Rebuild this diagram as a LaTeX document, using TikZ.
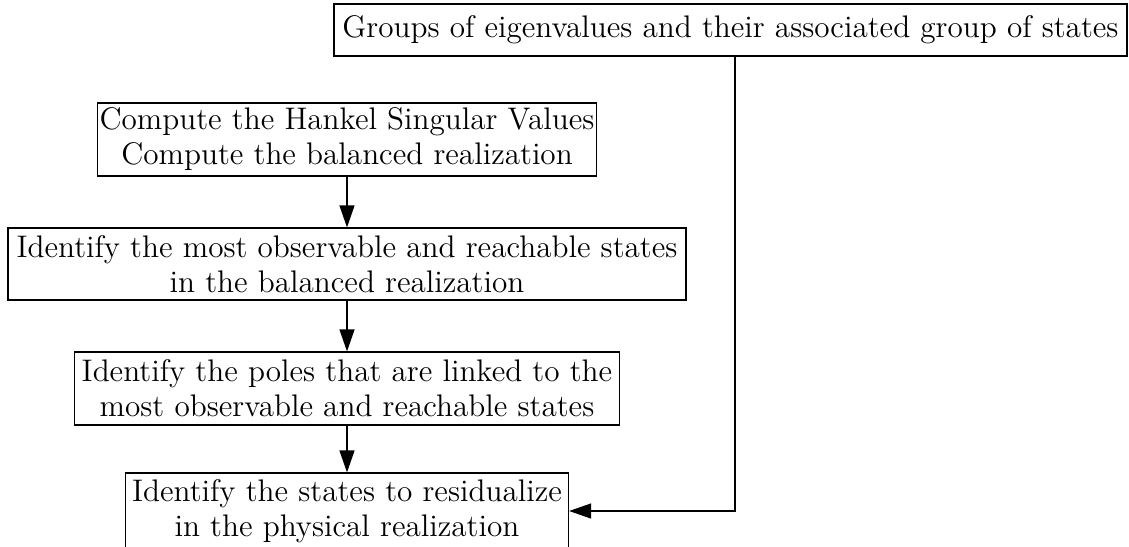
\documentclass[tikz,border=0pt]{standalone}
\usepackage{fontspec}
\setmainfont{lmroman12-regular.otf}
\usetikzlibrary{arrows.meta}
\begin{document}
\begin{tikzpicture}[x=0.5pt,y=-0.5pt,
  stepbox/.style={draw,line width=0.6pt,align=center,inner xsep=1pt,inner ysep=1pt,
    font=\fontsize{15.6}{17.5}\selectfont},
  arr/.style={line width=0.6pt,-{Triangle[length=11pt,width=7.5pt]}}]
\useasboundingbox (0,0) rectangle (1129,546);
\node[stepbox,minimum width=396.5pt,minimum height=26pt] (top) at (730.5,30)
  {Groups of eigenvalues and their associated group of states};
\node[stepbox,minimum width=249pt,minimum height=36.5pt] (b1) at (347,139.5)
  {Compute the Hankel Singular Values\\Compute the balanced realization};
\node[stepbox,minimum width=339pt,minimum height=36pt] (b2) at (347,264)
  {Identify the most observable and reachable states\\in the balanced realization};
\node[stepbox,minimum width=272.5pt,minimum height=36.5pt] (b3) at (347,388.5)
  {Identify the poles that are linked to the\\most observable and reachable states};
\node[stepbox,minimum width=221.5pt,minimum height=38pt] (b4) at (347,511)
  {Identify the states to residualize\\in the physical realization};
\draw[arr] (b1) -- (b2);
\draw[arr] (b2) -- (b3);
\draw[arr] (b3) -- (b4);
\draw[arr] ([xshift=2.25pt]top.south) |- (b4.east);
\end{tikzpicture}
\end{document}
